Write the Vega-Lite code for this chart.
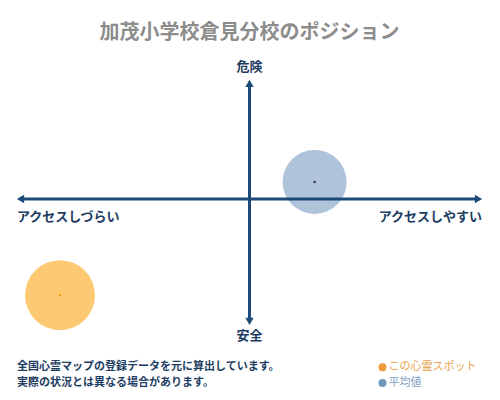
{
  "$schema": "https://vega.github.io/schema/vega-lite/v6.json",
  "autosize": "none",
  "width": 465,
  "height": 244,
  "padding": {"left": 17, "top": 78, "right": 18, "bottom": 78},
  "background": "white",
  "config": {
    "view": {"stroke": null},
    "font": "Noto Sans CJK JP",
    "text": {"font": "Noto Sans CJK JP"}
  },
  "title": {
    "text": "加茂小学校倉見分校のポジション",
    "font": "Noto Sans CJK JP",
    "fontSize": 20,
    "fontWeight": "bold",
    "color": "#8c8c8c",
    "anchor": "middle",
    "offset": 18
  },
  "datasets": {
    "hline": [{"x": -0.985, "y": 0.008}, {"x": 0.985, "y": 0.008}],
    "vline": [{"x": 0, "y": 0.955}, {"x": 0, "y": -0.995}],
    "heads": [
      {"x": -0.985, "y": 0.008, "shape": "triangle-left"},
      {"x": 0.985, "y": 0.008, "shape": "triangle-right"},
      {"x": 0, "y": 0.955, "shape": "triangle-up"},
      {"x": 0, "y": -0.995, "shape": "triangle-down"}
    ],
    "centerlabels": [
      {"x": 0, "y": 1.09, "label": "危険"},
      {"x": 0, "y": -1.115, "label": "安全"}
    ],
    "leftlabel": [{"x": -1, "y": -0.14, "label": "アクセスしづらい"}],
    "rightlabel": [{"x": 1, "y": -0.14, "label": "アクセスしやすい"}],
    "spots": [
      {"name": "平均値", "x": 0.28, "y": 0.148},
      {"name": "この心霊スポット", "x": -0.815, "y": -0.78}
    ],
    "notes": [
      {"x": -1, "y": -1.37, "note": "全国心霊マップの登録データを元に算出しています。"},
      {"x": -1, "y": -1.5, "note": "実際の状況とは異なる場合があります。"}
    ],
    "legend": [
      {"x": 0.572, "y": -1.37, "name": "この心霊スポット"},
      {"x": 0.572, "y": -1.5, "name": "平均値"}
    ]
  },
  "layer": [
    {
      "data": {"name": "spots"},
      "mark": {"type": "circle", "clip": false, "opacity": 1},
      "encoding": {
        "x": {"field": "x", "type": "quantitative", "scale": {"domain": [-1, 1]}, "axis": null},
        "y": {"field": "y", "type": "quantitative", "scale": {"domain": [-1, 1]}, "axis": null},
        "color": {
          "field": "name", "type": "nominal", "legend": null,
          "scale": {"domain": ["この心霊スポット", "平均値"], "range": ["#fdc972", "#afc3da"]}
        },
        "size": {
          "field": "name", "type": "nominal", "legend": null,
          "scale": {"domain": ["この心霊スポット", "平均値"], "range": [4900, 4100]}
        }
      }
    },
    {
      "data": {"name": "hline"},
      "mark": {"type": "line", "color": "#1c4a78", "strokeWidth": 3, "clip": false},
      "encoding": {
        "x": {"field": "x", "type": "quantitative"},
        "y": {"field": "y", "type": "quantitative"}
      }
    },
    {
      "data": {"name": "vline"},
      "mark": {"type": "line", "color": "#1c4a78", "strokeWidth": 3, "clip": false},
      "encoding": {
        "x": {"field": "x", "type": "quantitative"},
        "y": {"field": "y", "type": "quantitative"}
      }
    },
    {
      "data": {"name": "heads"},
      "mark": {"type": "point", "filled": true, "opacity": 1, "color": "#1c4a78", "size": 70, "clip": false},
      "encoding": {
        "x": {"field": "x", "type": "quantitative"},
        "y": {"field": "y", "type": "quantitative"},
        "shape": {"field": "shape", "type": "nominal", "scale": null, "legend": null}
      }
    },
    {
      "data": {"name": "spots"},
      "mark": {"type": "circle", "size": 6, "opacity": 1, "clip": false},
      "encoding": {
        "x": {"field": "x", "type": "quantitative"},
        "y": {"field": "y", "type": "quantitative"},
        "color": {
          "field": "name", "type": "nominal", "legend": null,
          "scale": {"domain": ["この心霊スポット", "平均値"], "range": ["#f0a020", "#333333"]}
        }
      }
    },
    {
      "data": {"name": "centerlabels"},
      "mark": {"type": "text", "fontSize": 13, "fontWeight": "bold", "color": "#1d3d63", "align": "center", "baseline": "middle", "clip": false},
      "encoding": {
        "x": {"field": "x", "type": "quantitative"},
        "y": {"field": "y", "type": "quantitative"},
        "text": {"field": "label"}
      }
    },
    {
      "data": {"name": "leftlabel"},
      "mark": {"type": "text", "fontSize": 13, "fontWeight": "bold", "color": "#1d3d63", "align": "left", "baseline": "middle", "clip": false},
      "encoding": {
        "x": {"field": "x", "type": "quantitative"},
        "y": {"field": "y", "type": "quantitative"},
        "text": {"field": "label"}
      }
    },
    {
      "data": {"name": "rightlabel"},
      "mark": {"type": "text", "fontSize": 13, "fontWeight": "bold", "color": "#1d3d63", "align": "right", "baseline": "middle", "clip": false},
      "encoding": {
        "x": {"field": "x", "type": "quantitative"},
        "y": {"field": "y", "type": "quantitative"},
        "text": {"field": "label"}
      }
    },
    {
      "data": {"name": "notes"},
      "mark": {"type": "text", "fontSize": 11, "fontWeight": "bold", "color": "#1d3d63", "align": "left", "baseline": "middle", "clip": false},
      "encoding": {
        "x": {"field": "x", "type": "quantitative"},
        "y": {"field": "y", "type": "quantitative"},
        "text": {"field": "note"}
      }
    },
    {
      "data": {"name": "legend"},
      "mark": {"type": "circle", "size": 64, "opacity": 1, "clip": false},
      "encoding": {
        "x": {"field": "x", "type": "quantitative"},
        "y": {"field": "y", "type": "quantitative"},
        "color": {
          "field": "name", "type": "nominal", "legend": null,
          "scale": {"domain": ["この心霊スポット", "平均値"], "range": ["#ef9a3c", "#6f97bd"]}
        }
      }
    },
    {
      "data": {"name": "legend"},
      "mark": {"type": "text", "fontSize": 11, "align": "left", "baseline": "middle", "dx": 6, "clip": false},
      "encoding": {
        "x": {"field": "x", "type": "quantitative"},
        "y": {"field": "y", "type": "quantitative"},
        "text": {"field": "name"},
        "color": {
          "field": "name", "type": "nominal", "legend": null,
          "scale": {"domain": ["この心霊スポット", "平均値"], "range": ["#e8a24e", "#7fa0c2"]}
        }
      }
    }
  ],
  "resolve": {"scale": {"color": "independent", "size": "independent"}}
}
